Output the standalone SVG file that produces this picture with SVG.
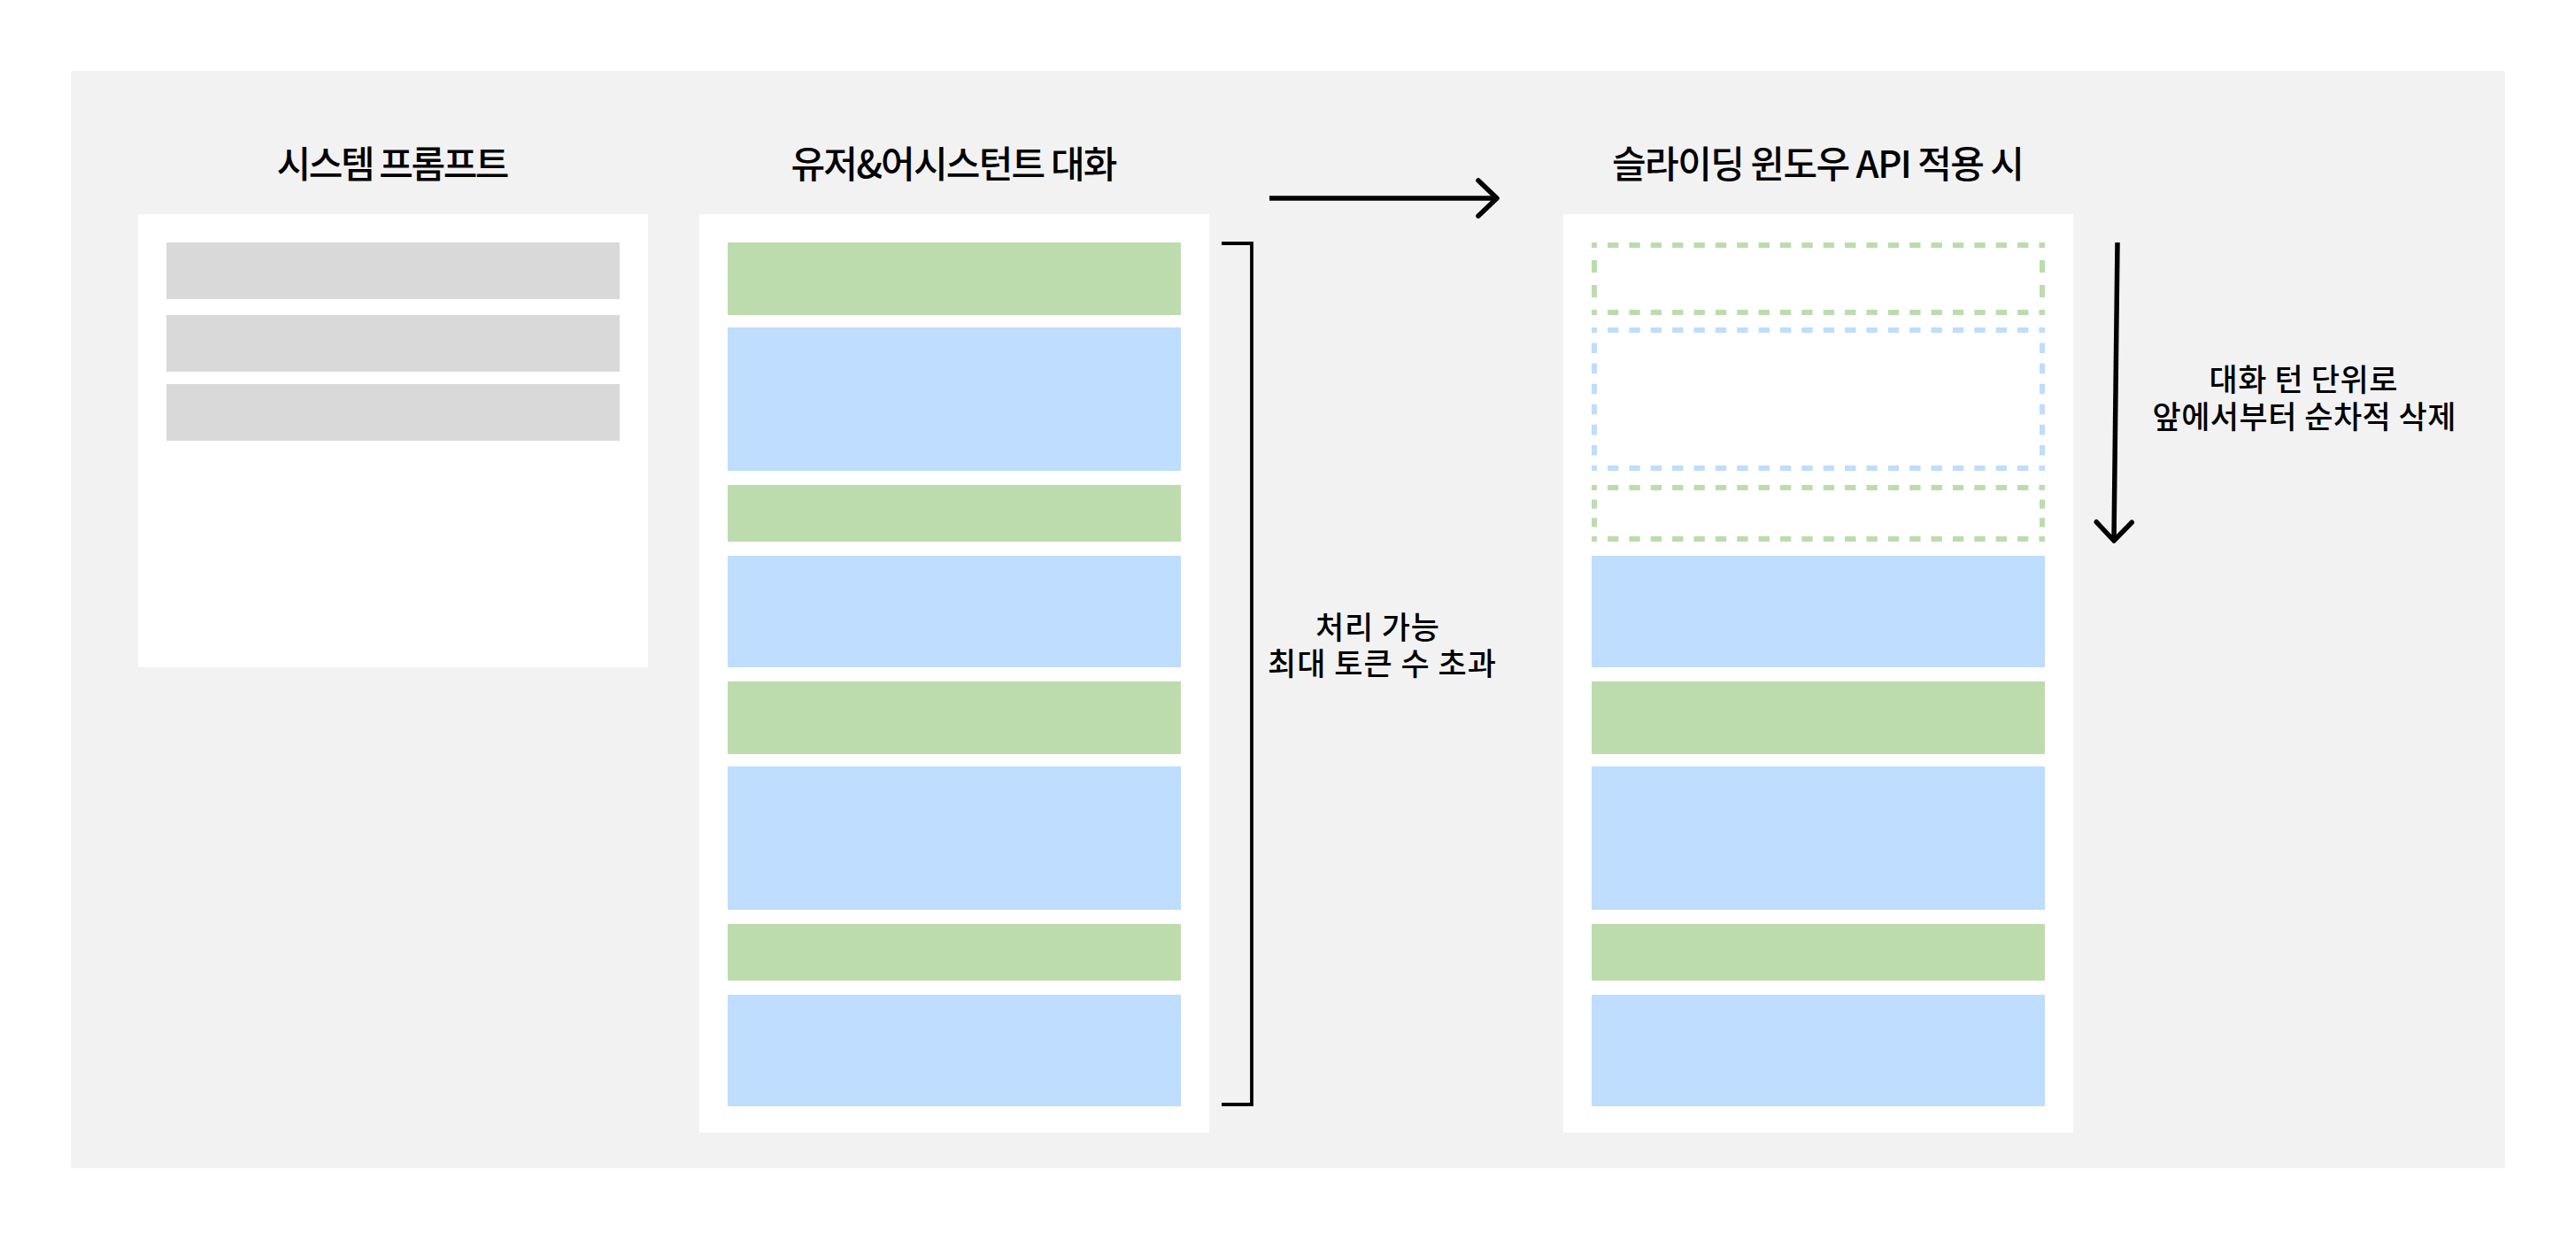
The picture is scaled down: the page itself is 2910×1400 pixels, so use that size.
<svg xmlns="http://www.w3.org/2000/svg" width="2910" height="1400" viewBox="0 0 2910 1400">
  <style>
    .title { font-family: "Noto Sans CJK KR", "Noto Sans", sans-serif; font-size: 42px; font-weight: 500; fill: #000; text-anchor: middle; }
    .note { font-family: "Noto Sans CJK KR", "Noto Sans", sans-serif; font-size: 35px; font-weight: 500; fill: #000; text-anchor: middle; }
    .panel { fill: #FFFFFF; }
    .sys { fill: #D9D9D9; }
    .user { fill: #BCDCAE; }
    .asst { fill: #BFDDFE; }
    .dh { stroke-width: 6; stroke-dasharray: 12.37 12; stroke-dashoffset: 6.37; fill: none; }
    .g { stroke: #BCDCAE; }
    .b { stroke: #BFDDFE; }
    .v82 { stroke-width: 6; stroke-dasharray: 14 14; stroke-dashoffset: 8; }
    .v162 { stroke-width: 6; stroke-dasharray: 11.538 11.538; stroke-dashoffset: 5.538; }
    .v64 { stroke-width: 6; stroke-dasharray: 10.4 10.4; stroke-dashoffset: 4.4; }
    .conn { stroke: #000; stroke-width: 5.5; fill: none; stroke-linecap: butt; }
    .bracket { stroke: #000; stroke-width: 3.8; fill: none; stroke-linejoin: miter; }
  </style>
  <defs>
    <marker id="chev" markerUnits="userSpaceOnUse" viewBox="-30 -30 40 60" markerWidth="40" markerHeight="60" refX="0" refY="0" orient="auto" overflow="visible">
      <path d="M-21,-20 L0,0 L-21,20" fill="none" stroke="#000" stroke-width="5.5" stroke-linecap="round" stroke-linejoin="round"/>
    </marker>
  </defs>

  <rect id="background" x="80" y="80" width="2750" height="1240" rx="3" fill="#F2F2F2"/>

  <g id="system-prompt">
    <text class="title" x="444" y="201" textLength="263">시스템 프롬프트</text>
    <rect class="panel" x="156" y="242" width="576" height="512"/>
    <rect class="sys" x="188" y="274" width="512" height="64"/>
    <rect class="sys" x="188" y="356" width="512" height="64"/>
    <rect class="sys" x="188" y="434" width="512" height="64"/>
  </g>

  <g id="conversation">
    <text class="title" x="1078" y="201" textLength="369">유저&amp;어시스턴트 대화</text>
    <rect class="panel" x="790" y="242" width="576" height="1038"/>
    <rect class="user" x="822" y="274" width="512" height="82"/>
    <rect class="asst" x="822" y="370" width="512" height="162"/>
    <rect class="user" x="822" y="548" width="512" height="64"/>
    <rect class="asst" x="822" y="628" width="512" height="126"/>
    <rect class="user" x="822" y="770" width="512" height="82"/>
    <rect class="asst" x="822" y="866" width="512" height="162"/>
    <rect class="user" x="822" y="1044" width="512" height="64"/>
    <rect class="asst" x="822" y="1124" width="512" height="126"/>
  </g>

  <g id="sliding-window">
    <text class="title" x="2054" y="201" textLength="466">슬라이딩 윈도우 API 적용 시</text>
    <rect class="panel" x="1766" y="242" width="576" height="1038"/>
    <g id="removed-turns">
      <line class="dh g" x1="1798" y1="277" x2="2310" y2="277"/>
      <line class="dh g" x1="1798" y1="353" x2="2310" y2="353"/>
      <line class="v82 g" x1="1801" y1="274" x2="1801" y2="356"/>
      <line class="v82 g" x1="2307" y1="274" x2="2307" y2="356"/>

      <line class="dh b" x1="1798" y1="373" x2="2310" y2="373"/>
      <line class="dh b" x1="1798" y1="529" x2="2310" y2="529"/>
      <line class="v162 b" x1="1801" y1="370" x2="1801" y2="532"/>
      <line class="v162 b" x1="2307" y1="370" x2="2307" y2="532"/>

      <line class="dh g" x1="1798" y1="551" x2="2310" y2="551"/>
      <line class="dh g" x1="1798" y1="609" x2="2310" y2="609"/>
      <line class="v64 g" x1="1801" y1="548" x2="1801" y2="612"/>
      <line class="v64 g" x1="2307" y1="548" x2="2307" y2="612"/>
    </g>
    <rect class="asst" x="1798" y="628" width="512" height="126"/>
    <rect class="user" x="1798" y="770" width="512" height="82"/>
    <rect class="asst" x="1798" y="866" width="512" height="162"/>
    <rect class="user" x="1798" y="1044" width="512" height="64"/>
    <rect class="asst" x="1798" y="1124" width="512" height="126"/>
  </g>

  <g id="connectors">
    <line class="conn" x1="1434" y1="224" x2="1691" y2="224" marker-end="url(#chev)"/>
    <line class="conn" x1="2392" y1="274" x2="2388" y2="611" marker-end="url(#chev)"/>
    <path class="bracket" d="M1380,275 H1414 V1248 H1380"/>
  </g>

  <g id="labels">
    <text class="note" id="label-limit"><tspan x="1556" y="722" textLength="140">처리 가능</tspan><tspan x="1561" y="763" textLength="258">최대 토큰 수 초과</tspan></text>
    <text class="note" id="label-delete"><tspan x="2602" y="442" textLength="213">대화 턴 단위로</tspan><tspan x="2603" y="484" textLength="343">앞에서부터 순차적 삭제</tspan></text>
  </g>
</svg>
